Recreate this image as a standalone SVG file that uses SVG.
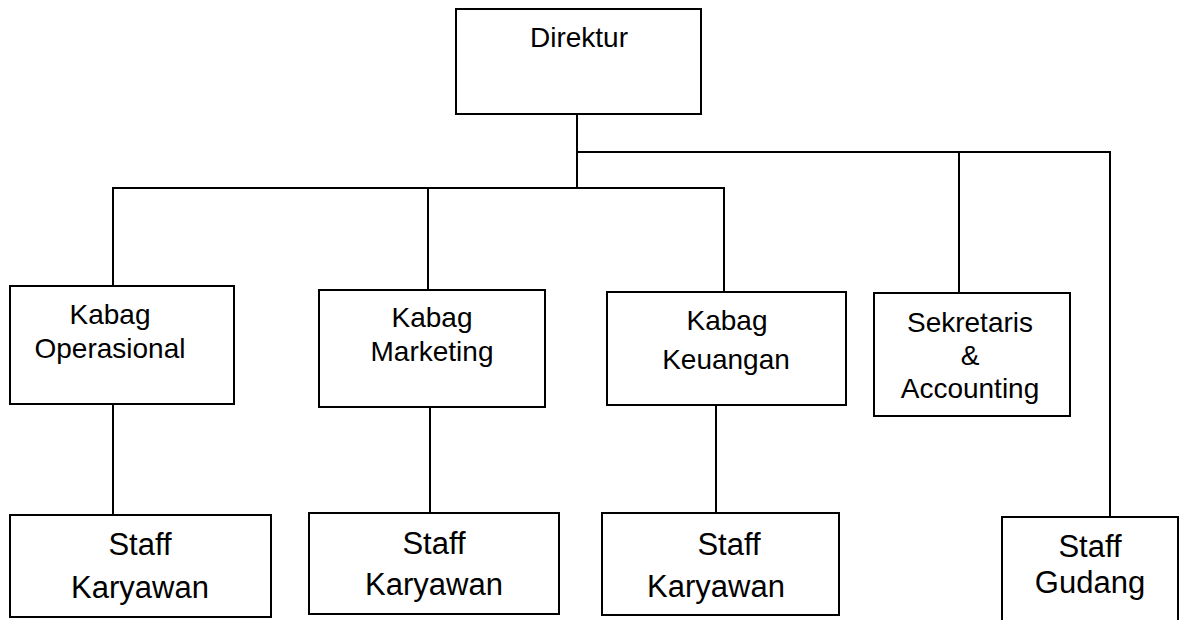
<svg xmlns="http://www.w3.org/2000/svg" width="1179" height="620" viewBox="0 0 1179 620">
<style>
.box{fill:#fff;stroke:#000;stroke-width:2}
.ln{fill:none;stroke:#000;stroke-width:2}
text{font-family:"Liberation Sans",Arial,sans-serif;fill:#000;text-anchor:middle}
.t1{font-size:28px}
.t2{font-size:31px}
</style>
<rect width="1179" height="620" fill="#fff"/>
<g id="connectors">
<path class="ln" d="M577,114 V188"/>
<path class="ln" d="M577,152 H1110 V517"/>
<path class="ln" d="M959,152 V293"/>
<path class="ln" d="M113,286 V188 H724 V292"/>
<path class="ln" d="M428,188 V290"/>
<path class="ln" d="M113,404 V515"/>
<path class="ln" d="M430,407 V513"/>
<path class="ln" d="M716,405 V513"/>
</g>
<g id="direktur">
<rect class="box" x="456" y="9" width="245" height="105"/>
<text class="t1" x="579" y="47">Direktur</text>
</g>
<g id="kabag-operasional">
<rect class="box" x="10" y="286" width="224" height="118"/>
<text class="t1" x="110" y="324">Kabag</text>
<text class="t1" x="110" y="358">Operasional</text>
</g>
<g id="kabag-marketing">
<rect class="box" x="319" y="290" width="226" height="117"/>
<text class="t1" x="432" y="327">Kabag</text>
<text class="t1" x="432" y="361">Marketing</text>
</g>
<g id="kabag-keuangan">
<rect class="box" x="607" y="292" width="239" height="113"/>
<text class="t1" x="727" y="330">Kabag</text>
<text class="t1" x="726" y="369">Keuangan</text>
</g>
<g id="sekretaris">
<rect class="box" x="874" y="293" width="196" height="123"/>
<text class="t1" x="970" y="332">Sekretaris</text>
<text class="t1" x="970" y="365">&amp;</text>
<text class="t1" x="970" y="398">Accounting</text>
</g>
<g id="staff-1">
<rect class="box" x="10" y="515" width="261" height="102"/>
<text class="t2" x="140" y="555">Staff</text>
<text class="t2" x="140" y="598">Karyawan</text>
</g>
<g id="staff-2">
<rect class="box" x="309" y="513" width="250" height="101"/>
<text class="t2" x="434" y="554">Staff</text>
<text class="t2" x="434" y="595">Karyawan</text>
</g>
<g id="staff-3">
<rect class="box" x="602" y="513" width="237" height="102"/>
<text class="t2" x="729" y="555">Staff</text>
<text class="t2" x="716" y="597">Karyawan</text>
</g>
<g id="staff-gudang">
<rect class="box" x="1002" y="517" width="176" height="110"/>
<text class="t2" x="1090" y="557">Staff</text>
<text class="t2" x="1090" y="593">Gudang</text>
</g>
</svg>
